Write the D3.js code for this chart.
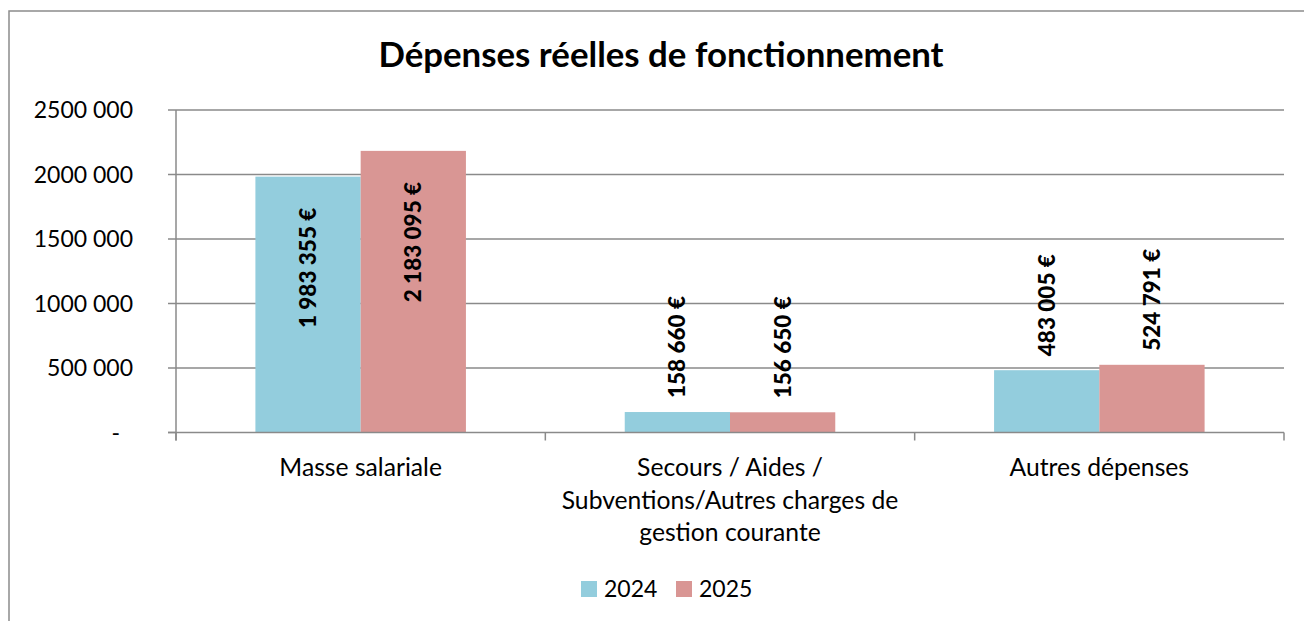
<!DOCTYPE html>
<html><head><meta charset="utf-8">
<script src="https://cdn.jsdelivr.net/npm/d3@7"></script>
<style>
html,body{margin:0;padding:0;background:#fff;overflow:hidden;}
svg{display:block;font-family:Lato,"Open Sans",sans-serif;}
</style></head>
<body><svg id="c" width="1304" height="621"></svg>
<script>
const title = "Dépenses réelles de fonctionnement";
const categories = ["Masse salariale", "Secours / Aides / Subventions/Autres charges de gestion courante", "Autres dépenses"];
const categoryLines = [["Masse salariale"], ["Secours / Aides /", "Subventions/Autres charges de", "gestion courante"], ["Autres dépenses"]];
const seriesNames = ["2024", "2025"];
const values2024 = [1983355, 158660, 483005];
const values2025 = [2183095, 156650, 524791];
const yTicks = [0, 500000, 1000000, 1500000, 2000000, 2500000];
const colors = ["#93CDDD", "#D99694"];

const svg = d3.select("#c");
const W = 1304, H = 621;
const plot = {left: 176, right: 1284, top: 110, bottom: 432.5};

// outer frame
svg.append("rect").attr("x", 9).attr("y", 11).attr("width", W + 20).attr("height", H + 20)
  .attr("fill", "#fff").attr("stroke", "#8c8c8c").attr("stroke-width", 1.5);

const y = d3.scaleLinear().domain([0, 2500000]).range([plot.bottom, plot.top]);
const x0 = d3.scaleBand().domain(categories).range([plot.left, plot.right]).padding(0);
const bw = x0.bandwidth();
const x1 = d3.scaleBand().domain(seriesNames).range([bw * 0.215, bw * 0.785]).padding(0);

const fmt = v => v === 0 ? "-" : d3.format(",")(v).replace(/,/g, " ").replace(/^(\d) (\d{3}) /, "$1$2 ");
const fmtLabel = v => d3.format(",")(v).replace(/,/g, " ") + " €";

// gridlines
svg.append("g").selectAll("line").data(yTicks.filter(d => d > 0)).join("line")
  .attr("x1", plot.left).attr("x2", plot.right)
  .attr("y1", d => y(d)).attr("y2", d => y(d))
  .attr("stroke", "#8a8a8a").attr("stroke-width", 1.5);

// bars
const data = categories.map((c, i) => ({cat: c, vals: [values2024[i], values2025[i]]}));
const groups = svg.append("g").selectAll("g").data(data).join("g")
  .attr("transform", d => `translate(${x0(d.cat)},0)`);
groups.selectAll("rect").data(d => d.vals.map((v, j) => ({s: seriesNames[j], v, j}))).join("rect")
  .attr("x", d => x1(d.s)).attr("width", x1.bandwidth())
  .attr("y", d => y(d.v)).attr("height", d => y(0) - y(d.v))
  .attr("fill", d => colors[d.j]);

// bar labels (rotated)
groups.selectAll("text").data(d => d.vals.map((v, j) => ({s: seriesNames[j], v, j}))).join("text")
  .attr("transform", d => {
    const cx = x1(d.s) + x1.bandwidth() / 2;
    const inside = d.v > 1500000;
    const yy = inside ? y(d.v) + 31 : y(d.v) - 14;
    return `translate(${cx},${yy}) rotate(-90)`;
  })
  .attr("text-anchor", d => d.v > 1500000 ? "end" : "start")
  .attr("dy", "0.36em")
  .attr("font-weight", 900).attr("font-size", 22.5).attr("fill", "#000")
  .text(d => fmtLabel(d.v));

// axes lines
svg.append("line").attr("x1", plot.left).attr("x2", plot.left).attr("y1", plot.top).attr("y2", plot.bottom + 8)
  .attr("stroke", "#8a8a8a").attr("stroke-width", 1.5);
svg.append("line").attr("x1", plot.left - 8).attr("x2", plot.right).attr("y1", plot.bottom).attr("y2", plot.bottom)
  .attr("stroke", "#8a8a8a").attr("stroke-width", 1.5);
// y ticks
svg.append("g").selectAll("line").data(yTicks).join("line")
  .attr("x1", plot.left - 8).attr("x2", plot.left).attr("y1", d => y(d)).attr("y2", d => y(d))
  .attr("stroke", "#8a8a8a").attr("stroke-width", 1.5);
// x ticks at band boundaries
const bounds = categories.map(c => x0(c)).concat([plot.right]);
svg.append("g").selectAll("line").data(bounds).join("line")
  .attr("x1", d => d).attr("x2", d => d).attr("y1", plot.bottom).attr("y2", plot.bottom + 8)
  .attr("stroke", "#8a8a8a").attr("stroke-width", 1.5);

// y labels
svg.append("g").selectAll("text").data(yTicks).join("text")
  .attr("x", d => d === 0 ? plot.left - 56 : plot.left - 43)
  .attr("y", d => y(d)).attr("dy", "0.36em")
  .attr("text-anchor", "end").attr("font-size", 23).attr("fill", "#000")
  .text(d => fmt(d));

// x labels
const xl = svg.append("g").selectAll("text").data(categories).join("text")
  .attr("text-anchor", "middle").attr("font-size", 24.7).attr("fill", "#000")
  .attr("x", d => x0(d) + bw / 2).attr("y", 476);
xl.each(function(d, i) {
  d3.select(this).selectAll("tspan").data(categoryLines[i]).join("tspan")
    .attr("x", x0(d) + bw / 2).attr("dy", (t, k) => k === 0 ? 0 : 32.5).text(t => t);
});

// title
svg.append("text").attr("x", 661).attr("y", 67).attr("text-anchor", "middle")
  .attr("font-weight", "bold").attr("font-size", 34.8).attr("fill", "#000").text(title);

// legend
const lg = svg.append("g").selectAll("g").data(seriesNames).join("g")
  .attr("transform", (d, i) => `translate(${581 + i * 95},581)`);
lg.append("rect").attr("width", 16).attr("height", 16).attr("fill", (d, i) => colors[i]);
lg.append("text").attr("x", 23).attr("y", 16).attr("font-size", 23).attr("fill", "#000").text(d => d);
</script></body></html>
